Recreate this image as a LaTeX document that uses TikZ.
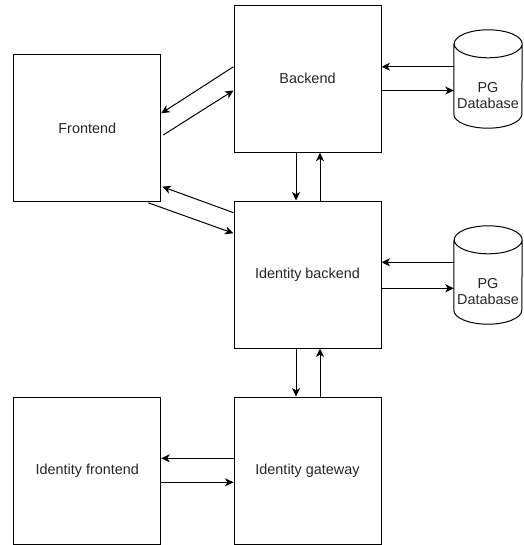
\documentclass[tikz,border=0pt]{standalone}
\usepackage{fontspec}
\setmainfont{Liberation Sans}
\usetikzlibrary{arrows.meta,calc}
\begin{document}
\begin{tikzpicture}[x=1pt,y=-1pt,
  box/.style={draw=black, line width=1pt, minimum width=147pt, minimum height=147pt, inner sep=0pt, fill=white,
    font=\fontsize{14.4}{17.3}\selectfont, text=black!85},
  dbbox/.style={minimum width=68pt, minimum height=98pt, inner sep=0pt},
  dblabel/.style={font=\fontsize{14.4}{16.5}\selectfont, text=black!85, align=center},
  arr/.style={line width=1pt, -{Stealth[length=8.5pt,width=8pt,inset=2.4pt]}},
  cyl/.style={draw=black, line width=1pt}]
\useasboundingbox (0,0) rectangle (523,545);
% boxes
\node[box] (front) at (87.25,128) {Frontend};
\node[box] (back) at (307.5,78.7) {Backend};
\node[box] (idback) at (307.5,274.5) {Identity backend};
\node[box] (idfront) at (87.25,470.5) {Identity frontend};
\node[box] (idgate) at (307.5,470.5) {Identity gateway};
% databases
\node[dbbox] (db1) at (488,79) {};
\node[dbbox] (db2) at (488,275) {};
\foreach \d in {db1,db2}{
  \draw[cyl] ([yshift=-14pt]\d.north west) -- ([yshift=14pt]\d.south west)
    arc[start angle=180, end angle=360, x radius=34pt, y radius=14pt]
    -- ([yshift=-14pt]\d.north east)
    arc[start angle=0, end angle=180, x radius=34pt, y radius=14pt]
    arc[start angle=180, end angle=360, x radius=34pt, y radius=14pt];
}
\node[dblabel] (db1t) at ($(db1.north)+(0,65.5)$) {PG\\Database};
\node[dblabel] (db2t) at ($(db2.north)+(0,65.5)$) {PG\\Database};
% helper y coordinates
\coordinate (ya) at (0,66.7);
\coordinate (yb) at (0,90.5);
\coordinate (yc) at (0,262.3);
\coordinate (yd) at (0,288.3);
\coordinate (ye) at (0,458.3);
\coordinate (yf) at (0,482.3);
\coordinate (yg) at (0,113.3);
\coordinate (yh) at (0,135);
\coordinate (yi) at (0,212.7);
\coordinate (yj) at (0,186.7);
\coordinate (yk) at (0,233.3);
\coordinate (xa) at (296,0);
\coordinate (xb) at (320,0);
% backend <-> db1
\draw[arr] (db1.west |- ya) -- (back.east |- ya);
\draw[arr] (back.east |- yb) -- (db1.west |- yb);
% identity backend <-> db2
\draw[arr] (db2.west |- yc) -- (idback.east |- yc);
\draw[arr] (idback.east |- yd) -- (db2.west |- yd);
% backend <-> identity backend
\draw[arr] (xa |- back.south) -- (xa |- idback.north);
\draw[arr] (xb |- idback.north) -- (xb |- back.south);
% identity backend <-> gateway
\draw[arr] (xa |- idback.south) -- (xa |- idgate.north);
\draw[arr] (xb |- idgate.north) -- (xb |- idback.south);
% gateway <-> identity frontend
\draw[arr] (idgate.west |- ye) -- (idfront.east |- ye);
\draw[arr] (idfront.east |- yf) -- (idgate.west |- yf);
% frontend <-> backend
\draw[arr] (back.west |- ya) -- (front.east |- yg);
\draw[arr] ([xshift=2pt]front.east |- yh) -- (back.west |- yb);
% frontend <-> identity backend
\draw[arr] (idback.west |- yi) -- ([xshift=1pt]front.east |- yj);
\draw[arr] ([xshift=-13pt,yshift=-0.8pt]front.south east) -- (idback.west |- yk);
\end{tikzpicture}
\end{document}
